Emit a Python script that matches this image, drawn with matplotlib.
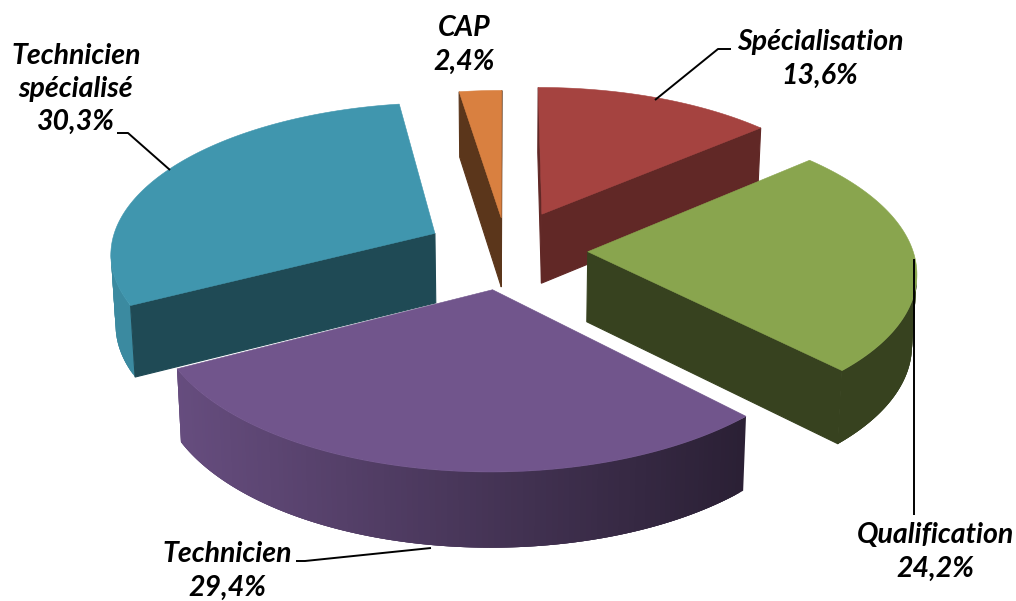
import numpy as np
import matplotlib
matplotlib.use("Agg")
import matplotlib.pyplot as plt
from matplotlib.patches import Polygon

categories = ["Spécialisation", "Qualification", "Technicien", "Technicien\nspécialisé", "CAP"]
shares = [13.6, 24.2, 29.4, 30.3, 2.4]
percent_labels = ["13,6%", "24,2%", "29,4%", "30,3%", "2,4%"]
top_colors = ["#A54340", "#89A54E", "#71558C", "#4096AE", "#D98040"]
face_factor = [0.59, 0.40, 0.38, 0.49, 0.42]
explode = [0.27, 0.25, 0.26, 0.25, 0.22]
label_xy = [(820, 59), (935, 552), (227, 571), (76, 89), (464, 45)]
leaders = [[(731, 49), (718, 49), (655, 100)],
           [(914, 259), (914, 515)],
           [(296, 561), (305, 561), (431, 548)],
           [(117, 133), (128, 133), (170, 170)]]
draw_order = [4, 0, 3, 1, 2]

CX, CY, F, G, K, DEPTH = 506.5, 250.0, 325.0, 150.0, 0.12, 70.0

fig = plt.figure(figsize=(10.16, 6.01), dpi=100)
ax = fig.add_axes([0, 0, 1, 1])
ax.set_xlim(0, 1016)
ax.set_ylim(601, 0)
ax.axis("off")


def project(u, v, low=False):
    w = 1 - K * v
    x = F * u / w
    y = G * v / w
    if low:
        return CX + x * 0.988, CY + y + DEPTH / (1 - 0.5 * K * v)
    return CX + x, CY + y


def disc(a, ou, ov):
    return ou + np.sin(a), ov - np.cos(a)


def shade(rgb, factor):
    return tuple(np.clip(np.array(rgb) * factor, 0, 1))


def area(pts):
    p = np.array(pts)
    x, y = p[:, 0], p[:, 1]
    return np.sum(x * np.roll(y, -1) - np.roll(x, -1) * y)


total = sum(shares)
edges = np.cumsum([0] + shares) / total * 2 * np.pi
for i in draw_order:
    a0, a1 = edges[i], edges[i + 1]
    mid = (a0 + a1) / 2
    ou, ov = explode[i] * np.sin(mid), -explode[i] * np.cos(mid)
    base = matplotlib.colors.to_rgb(top_colors[i])
    angs = np.linspace(a0, a1, 121)
    u, v = disc(angs, ou, ov)
    tx, ty = project(u, v)
    bx, by = project(u, v, True)
    ax_t = project(ou, ov)
    ax_b = project(ou, ov, True)
    # outer wall: overlapping strips so the seams never show the background
    n = len(angs)
    for j in range(n - 1):
        if tx[j + 1] < tx[j]:
            k = min(j + 3, n - 1)
            xm = (tx[j] + tx[j + 1]) / 2
            f = np.clip(0.9 - (xm - 180) * 0.53 / 570, face_factor[i], 0.92)
            c = shade(base, f)
            idx = np.arange(j, k + 1)
            q = list(zip(tx[idx], ty[idx])) + list(zip(bx[idx][::-1], by[idx][::-1]))
            ax.add_patch(Polygon(q, closed=True, fc=c, ec="none", lw=0, zorder=1))
    # cut faces
    for idx, sign in ((0, -1), (-1, 1)):
        q = [ax_t, (tx[idx], ty[idx]), (bx[idx], by[idx]), ax_b]
        if area(q) * sign > 0:
            c = shade(base, face_factor[i])
            ax.add_patch(Polygon(q, closed=True, fc=c, ec=c, lw=0.8, zorder=1))
    pts = [ax_t] + list(zip(tx, ty))
    ax.add_patch(Polygon(pts, closed=True, fc=base, ec=base, lw=0.4, zorder=1))

for path in leaders:
    xs, ys = zip(*path)
    ax.plot(xs, ys, color="black", lw=1.4, zorder=2, solid_capstyle="butt")

for name, pct, (x, y) in zip(categories, percent_labels, label_xy):
    ax.text(x, y, name + "\n" + pct, ha="center", va="center", family="Lato",
            fontweight="bold", fontstyle="italic", fontsize=20.5, color="black",
            linespacing=1.34, zorder=3)

fig.savefig("out.png", dpi=100)
